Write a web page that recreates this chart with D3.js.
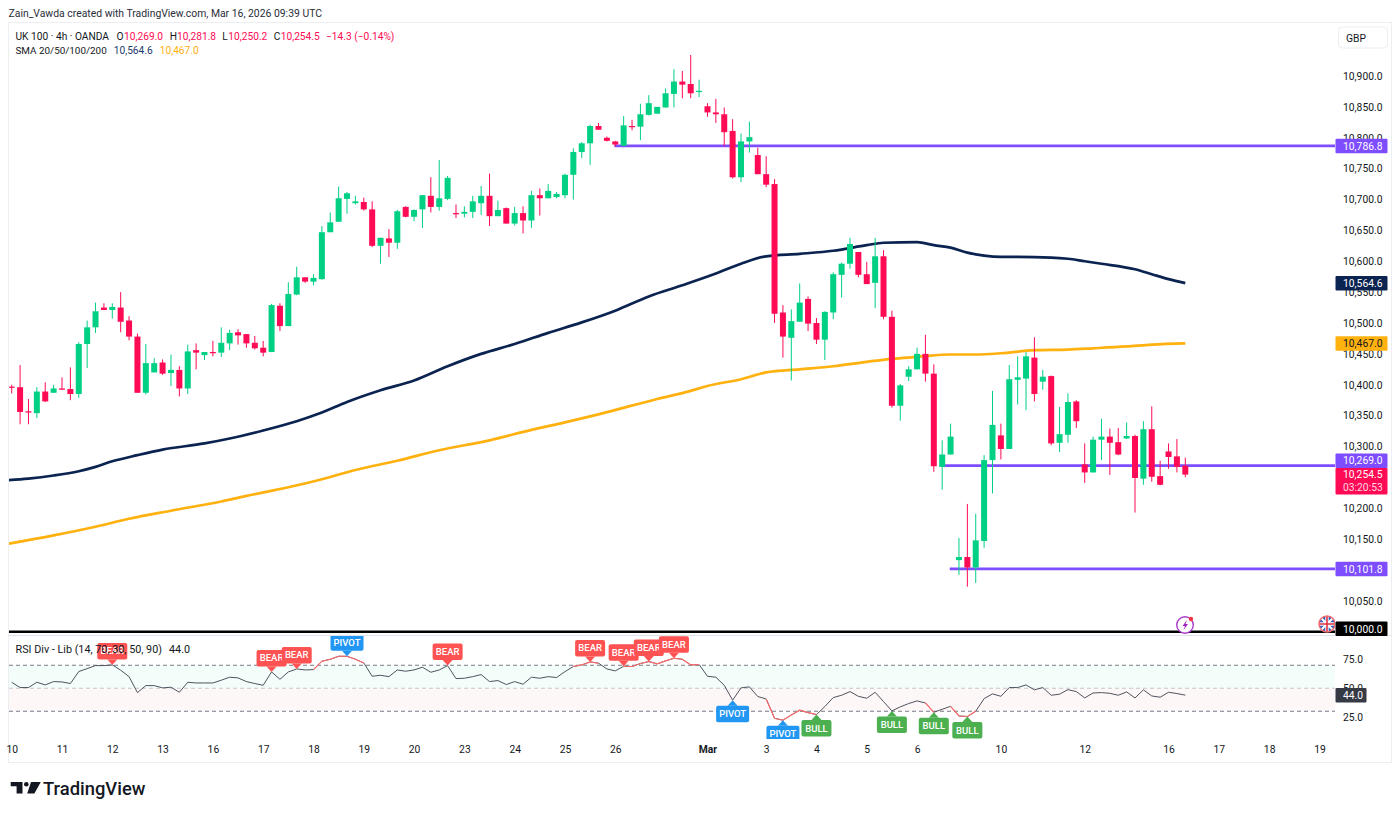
<!DOCTYPE html>
<html>
<head>
<meta charset="utf-8">
<script src="https://cdnjs.cloudflare.com/ajax/libs/d3/7.8.5/d3.min.js"></script>
<style>
    html, body { margin: 0; padding: 0; background: #ffffff; }
    svg { display: block; }
    text { font-family: Roboto, "Liberation Sans", sans-serif; }
</style>
</head>
<body>
<script>
    // candles, one value per 4h bar
    var opens = [
        10397,10396,10357,10354,10389,10387,10394,10393,10385,10466,
        10493,10525,10521,10525,10504,10478,10387,10420,10436,10419,
        10424,10394,10456,10448,10453,10452,10467,10485,10482,10468,
        10460,10453,10528,10495,10546,10574,10567,10571,10647,10664,
        10701,10694,10696,10684,10625,10637,10630,10688,10672,10684,
        10706,10688,10701,10678,10677,10680,10694,10706,10673,10686,
        10661,10678,10666,10707,10702,10704,10707,10740,10777,10791,
        10819,10800,10794,10787,10819,10818,10837,10839,10849,10871,
        10891,10887,10874,10851,10841,10838,10811,10736,10794,10772,
        10741,10725,10517,10476,10502,10539,10500,10473,10517,10578,
        10596,10615,10579,10565,10608,10510,10366,10413,10425,10450,
        10418,10267,10287,10116,10121,10104,10147,10278,10318,10296,
        10408,10410,10444,10405,10414,10306,10319,10373,10271,10258,
        10311,10316,10307,10313,10317,10248,10328,10252,10292,10284,10269
    ];
    var highs = [
        10400,10432,10377,10396,10404,10400,10412,10428,10469,10504,
        10533,10532,10532,10550,10511,10483,10466,10443,10441,10449,
        10430,10465,10467,10453,10471,10493,10489,10490,10482,10479,
        10471,10531,10532,10566,10591,10574,10579,10657,10679,10721,
        10712,10706,10703,10697,10638,10652,10683,10689,10684,10707,
        10736,10764,10738,10692,10689,10706,10722,10742,10698,10687,
        10688,10689,10714,10718,10725,10712,10742,10783,10793,10821,
        10824,10802,10795,10835,10829,10855,10869,10850,10880,10911,
        10908,10934,10894,10856,10863,10849,10830,10807,10826,10784,
        10770,10733,10529,10522,10564,10543,10508,10519,10582,10598,
        10638,10615,10599,10638,10618,10520,10401,10430,10460,10481,
        10433,10310,10337,10152,10207,10191,10286,10390,10337,10432,
        10446,10453,10477,10424,10415,10364,10386,10375,10305,10316,
        10345,10329,10330,10339,10319,10341,10365,10277,10305,10312,10281.8
    ];
    var lows = [
        10386,10336,10336,10346,10372,10387,10392,10375,10379,10427,
        10484,10521,10507,10485,10472,10387,10384,10420,10416,10398,
        10381,10385,10425,10440,10446,10445,10456,10465,10460,10457,
        10446,10453,10487,10495,10545,10565,10561,10570,10647,10664,
        10677,10692,10682,10623,10596,10607,10620,10671,10665,10654,
        10679,10682,10699,10670,10671,10670,10675,10657,10673,10661,
        10658,10645,10654,10674,10702,10702,10702,10700,10767,10756,
        10813,10794,10786,10787,10812,10796,10836,10839,10849,10849,
        10864,10864,10866,10834,10824,10786,10734,10728,10776,10741,
        10720,10500,10444,10407,10502,10487,10466,10440,10506,10541,
        10588,10574,10563,10524,10506,10363,10342,10406,10425,10405,
        10259,10230,10287,10092,10073,10079,10136,10224,10279,10296,
        10368,10359,10373,10392,10302,10291,10306,10330,10241,10258,
        10278,10254,10286,10312,10193,10238,10243,10237,10264,10258,10250.2
    ];
    var closes = [
        10396,10356,10355,10389,10373,10394,10392,10385,10466,10493,
        10519,10521,10526,10502,10478,10387,10435,10435,10418,10424,
        10394,10454,10452,10453,10452,10468,10484,10480,10467,10459,
        10452,10529,10495,10547,10574,10567,10573,10647,10663,10702,
        10710,10697,10684,10625,10638,10630,10681,10672,10683,10707,
        10688,10702,10735,10676,10680,10697,10706,10673,10683,10661,
        10678,10666,10707,10702,10714,10709,10740,10777,10791,10819,
        10813,10795,10789,10820,10818,10838,10856,10850,10872,10891,
        10886,10872,10876,10841,10838,10809,10736,10794,10801,10741,
        10724,10515,10478,10503,10533,10499,10473,10518,10579,10596,
        10628,10578,10563,10608,10510,10366,10399,10425,10450,10418,
        10268,10287,10316,10121,10104,10148,10278,10335,10296,10409,
        10412,10446,10385,10413,10305,10320,10372,10341,10258,10311,
        10316,10306,10287,10317,10249,10328,10251,10238,10283,10267,10254.5
    ];

    // moving averages, sampled at the bars where the curve could be read
    var sma100Bars = [-1,2,5,8,10,12,15,18,23,26,30,34,37,40,44,48,52,56,60,64,68,72,76,80,84,87,90,94,98,102,104,108,110,112,114,116,118,120,124,126,128,130,134,136,138,140];
    var sma100Values = [10245,10248,10253,10260,10267,10276,10286,10295,10305,10313,10326,10341,10355,10372,10391,10407,10430,10450,10466,10484,10501,10520,10543,10561,10580,10596,10608,10612,10617,10626,10630,10631,10626,10622,10614,10609,10607,10607,10606,10604,10600,10596,10587,10579,10571,10564.6];
    var sma200Bars = [-1,5,10,14,19,25,28,33,37,41,46,51,57,62,66,70,77,81,83,87,90,94,98,102,105,108,112,115,118,122,126,129,133,136,140];
    var sma200Values = [10141,10156,10170,10183,10196,10211,10220,10234,10247,10262,10277,10294,10310,10327,10339,10352,10377,10390,10398,10409,10420,10425,10430,10437,10442,10445,10449,10449,10451,10456,10457,10459,10462,10465,10467];

    // RSI, one value per bar
    var rsiValues = [
        55.2,50.6,50.6,55.2,52.9,55.8,55.5,54.1,64.5,67.1,
        69.7,69.7,70.3,65.7,60.1,46.2,52.3,52.3,50.3,50.9,
        46.5,55.2,54.6,54.6,54.6,57.0,59.6,59.0,55.8,54.1,
        52.6,64.2,57.8,64.2,66.8,65.9,66.2,73.5,75.2,77.8,
        77.8,75.2,72.0,60.4,61.3,60.1,65.9,64.8,65.9,68.3,
        63.9,65.9,69.7,58.4,58.7,60.1,61.9,55.8,56.7,53.2,
        55.8,53.5,59.6,58.7,60.1,59.3,64.5,68.9,70.3,72.9,
        71.8,66.8,65.1,69.1,68.9,71.5,73.2,71.2,73.8,76.1,
        75.2,70.3,70.6,60.4,59.6,52.6,39.6,50.3,51.2,42.8,
        40.7,23.9,22.2,26.8,30.9,28.8,27.1,34.1,41.9,43.9,
        47.1,43.0,41.3,46.5,38.4,30.3,33.8,36.7,39.0,37.2,
        29.1,31.7,34.3,25.9,25.4,30.0,41.0,45.1,43.0,50.6,
        50.6,52.9,48.6,50.6,43.9,44.8,48.8,47.1,41.6,45.9,
        46.2,45.6,43.9,46.8,41.6,48.6,43.3,42.2,46.5,45.4,44.0
    ];
    var rsiHotStarts = [36,67,73,90,109,112];
    var rsiHotEnds = [42,70,82,96,110,115];
    var rsiLevels = [70,50,30];
    var rsiTicks = [75,50,25];

    var markerBars = [12,31,34,40,52,69,73,76,79,86,92,96,105,110,114];
    var markerLabels = ['BEAR','BEAR','BEAR','PIVOT','BEAR','BEAR','BEAR','BEAR','BEAR','PIVOT','PIVOT','BULL','BULL','BULL','BULL'];
    var markerSides = ['up','up','up','up','up','up','up','up','up','down','down','down','down','down','down'];

    // 10,250 and 10,100 sit fully behind price badges in the picture
    var priceTicks = [10900,10850,10800,10750,10700,10650,10600,10550,10500,10450,10400,10350,10300,10200,10150,10050];
    var levelValues = [10786.8,10269.0,10101.8];
    var levelStartBars = [71.9,110.8,111.9];

    var badgeValues = [10786.8,10564.6,10467.0,10269.0,10101.8,10000.0];
    var badgeColors = ['#7e4dff','#0b2350','#ffb10f','#7e4dff','#7e4dff','#000000'];
    var badgeTextColors = ['#ffffff','#ffffff','#131722','#ffffff','#ffffff','#ffffff'];
    var badgeShifts = [0,0,0,-5,0,-3];

    var timeBars = [0,6,12,18,24,30,36,42,48,54,60,66,72,83,90,96,102,108,118,128,138,144,150,156];
    var timeLabels = ['10','11','12','13','16','17','18','19','20','23','24','25','26','Mar','3','4','5','6','10','12','16','17','18','19'];

    var green = '#00d084', red = '#ff0a54', purple = '#7e4dff', navy = '#0b2350', amber = '#ffb10f';
    var textColor = '#131722';
    var axisFont = 10.3;
    var bars = d3.range(closes.length);

    var x = d3.scaleLinear().domain([0, 140]).range([11.7, 1185.3]);
    var y = d3.scaleLinear().domain([10900, 10000]).range([76, 631.75]);
    var rsiY = d3.scaleLinear().domain([75, 25]).range([659.5, 717]);

    var svg = d3.select('body').append('svg').attr('width', 1400).attr('height', 814);
    var defs = svg.append('defs');
    defs.append('clipPath').attr('id', 'main-clip').append('rect')
        .attr('x', 9).attr('y', 23).attr('width', 1326).attr('height', 612);
    defs.append('clipPath').attr('id', 'rsi-clip').append('rect')
        .attr('x', 9).attr('y', 636).attr('width', 1326).attr('height', 103);
    defs.append('clipPath').attr('id', 'flag-clip').append('circle')
        .attr('cx', 1327).attr('cy', 624).attr('r', 8);

    svg.append('text').attr('x', 8.5).attr('y', 16.5)
        .attr('font-size', 10.4).attr('fill', '#2a2e39')
        .text('Zain_Vawda created with TradingView.com, Mar 16, 2026 09:39 UTC');

    // chart frame
    svg.append('rect').attr('x', 8.5).attr('y', 22.5).attr('width', 1383).attr('height', 740)
        .attr('fill', 'none').attr('stroke', '#eceef2');
    svg.append('line').attr('x1', 9).attr('x2', 1391).attr('y1', 635.5).attr('y2', 635.5)
        .attr('stroke', '#e0e3eb');

    var main = svg.append('g').attr('clip-path', 'url(#main-clip)');

    // sma lines sit under the candles
    var smaLine = d3.line().curve(d3.curveMonotoneX)
        .x(function (d) { return x(d[0]); })
        .y(function (d) { return y(d[1]); });
    main.append('path').datum(d3.zip(sma200Bars, sma200Values)).attr('d', smaLine)
        .attr('fill', 'none').attr('stroke', amber).attr('stroke-width', 2.7);
    main.append('path').datum(d3.zip(sma100Bars, sma100Values)).attr('d', smaLine)
        .attr('fill', 'none').attr('stroke', navy).attr('stroke-width', 2.7);

    main.selectAll('.level').data(levelValues).enter().append('line')
        .attr('class', 'level')
        .attr('x1', function (d, i) { return x(levelStartBars[i]); })
        .attr('x2', 1335)
        .attr('y1', function (d) { return y(d); })
        .attr('y2', function (d) { return y(d); })
        .attr('stroke', purple).attr('stroke-width', 2.8);
    main.append('line').attr('x1', 9).attr('x2', 1335)
        .attr('y1', y(10000)).attr('y2', y(10000))
        .attr('stroke', '#000000').attr('stroke-width', 2.6);

    function candleColor(i) { return closes[i] >= opens[i] ? green : red; }

    main.selectAll('.wick').data(bars).enter().append('line')
        .attr('class', 'wick')
        .attr('x1', function (i) { return x(i); })
        .attr('x2', function (i) { return x(i); })
        .attr('y1', function (i) { return y(highs[i]); })
        .attr('y2', function (i) { return y(lows[i]); })
        .attr('stroke', candleColor).attr('stroke-width', 1);
    main.selectAll('.body').data(bars).enter().append('rect')
        .attr('class', 'body')
        .attr('x', function (i) { return x(i) - 3; })
        .attr('width', 6)
        .attr('y', function (i) { return y(Math.max(opens[i], closes[i])); })
        .attr('height', function (i) { return Math.max(1.2, Math.abs(y(opens[i]) - y(closes[i]))); })
        .attr('fill', candleColor);

    // event icons at the bottom of the price pane
    main.append('circle').attr('cx', 1185).attr('cy', 625).attr('r', 8.3)
        .attr('fill', '#ffffff').attr('stroke', '#a93bc9').attr('stroke-width', 1.4);
    main.append('path').attr('d', 'M1187 620 L1182.5 626 L1185 626 L1183.5 630 L1188 624 L1185.5 624 Z').attr('fill', '#a020c0');
    main.append('circle').attr('cx', 1191).attr('cy', 619).attr('r', 2.2).attr('fill', '#f23645');
    var flag = main.append('g').attr('clip-path', 'url(#flag-clip)');
    flag.append('rect').attr('x', 1319).attr('y', 616).attr('width', 16).attr('height', 16).attr('fill', '#2b5fb8');
    flag.append('path').attr('d', 'M1319 616 L1335 632 M1335 616 L1319 632').attr('stroke', '#ffffff').attr('stroke-width', 2.2);
    flag.append('path').attr('d', 'M1327 616 V632 M1319 624 H1335').attr('stroke', '#ffffff').attr('stroke-width', 3.4);
    flag.append('path').attr('d', 'M1327 616 V632 M1319 624 H1335').attr('stroke', '#e03040').attr('stroke-width', 1.6);
    main.append('circle').attr('cx', 1327).attr('cy', 624).attr('r', 8)
        .attr('fill', 'none').attr('stroke', '#f06a70').attr('stroke-width', 1.4);

    // legend
    var legend = svg.append('g').attr('font-size', 10.2);
    legend.append('text').attr('x', 15.5).attr('y', 40).attr('font-size', 10.2).attr('fill', textColor).text('UK 100 \u00b7 4h \u00b7 OANDA');
    var legendLetters = ['O','H','L','C'];
    var legendLetterX = [116.5,169.7,222.3,273.7];
    var legendValueX = [124,177,228.3,280.7];
    var legendValues = [opens[140], highs[140], lows[140], closes[140]];
    legendLetters.forEach(function (letter, i) {
        legend.append('text').attr('x', legendLetterX[i]).attr('y', 40).attr('fill', textColor).text(letter);
        legend.append('text').attr('x', legendValueX[i]).attr('y', 40).attr('fill', red).text(d3.format(',.1f')(legendValues[i]));
    });
    legend.append('text').attr('x', 326).attr('y', 40).attr('fill', red).text('\u221214.3 (\u22120.14%)');
    legend.append('text').attr('x', 15.5).attr('y', 54).attr('font-size', 9.9).attr('fill', textColor).text('SMA 20/50/100/200');
    legend.append('text').attr('x', 113.7).attr('y', 54).attr('fill', '#1c3a6e').text('10,564.6');
    legend.append('text').attr('x', 159.7).attr('y', 54).attr('fill', amber).text('10,467.0');

    // rsi pane
    var rsiPane = svg.append('g').attr('clip-path', 'url(#rsi-clip)');
    rsiPane.append('rect').attr('x', 9).attr('width', 1326)
        .attr('y', rsiY(70)).attr('height', rsiY(50) - rsiY(70)).attr('fill', '#f3fdfa');
    rsiPane.append('rect').attr('x', 9).attr('width', 1326)
        .attr('y', rsiY(50)).attr('height', rsiY(30) - rsiY(50)).attr('fill', '#fef7f7');
    rsiPane.selectAll('.rsi-level').data(rsiLevels).enter().append('line')
        .attr('class', 'rsi-level')
        .attr('x1', 9).attr('x2', 1335)
        .attr('y1', function (d) { return rsiY(d); })
        .attr('y2', function (d) { return rsiY(d); })
        .attr('stroke', function (d) { return d === 50 ? '#c4c6cc' : '#787b86'; })
        .attr('stroke-dasharray', '4 3');

    var rsiLine = d3.line()
        .x(function (i) { return x(i); })
        .y(function (i) { return rsiY(rsiValues[i]); });
    rsiPane.append('path').datum(bars).attr('d', rsiLine)
        .attr('fill', 'none').attr('stroke', '#50535e').attr('stroke-width', 1);
    rsiHotStarts.forEach(function (start, k) {
        rsiPane.append('path').datum(d3.range(start, rsiHotEnds[k] + 1)).attr('d', rsiLine)
            .attr('fill', 'none').attr('stroke', '#ff6b6b').attr('stroke-width', 1.1);
    });

    var markerColors = { BEAR: '#ff5252', BULL: '#4caf50', PIVOT: '#2196f3' };
    markerBars.forEach(function (bar, k) {
        var label = markerLabels[k];
        var up = markerSides[k] === 'up';
        var px = x(bar), py = rsiY(rsiValues[bar]);
        var w = label === 'PIVOT' ? 33 : 30, h = 16.5, gap = 5.5;
        var top = up ? py - gap - h : py + gap;
        var m = rsiPane.append('g');
        m.append('rect').attr('x', px - w / 2).attr('y', top).attr('width', w).attr('height', h)
            .attr('rx', 2).attr('fill', markerColors[label]);
        var edge = up ? py - gap : py + gap;
        m.append('path').attr('d', d3.line()([[px - 5, edge], [px + 5, edge], [px, py]]) + 'Z')
            .attr('fill', markerColors[label]);
        m.append('text').attr('x', px).attr('y', top + h / 2 + 3.3).attr('text-anchor', 'middle')
            .attr('font-size', 9.5).attr('font-weight', 500).attr('fill', '#ffffff').text(label);
    });

    svg.append('text').attr('x', 15.5).attr('y', 653).attr('font-size', 10.8).attr('fill', textColor)
        .text('RSI Div - Lib (14, 70, 30, 50, 90)');
    svg.append('text').attr('x', 169).attr('y', 653).attr('font-size', 10.8).attr('fill', textColor).text('44.0');

    // price scale
    var priceAxis = svg.append('g').attr('transform', 'translate(1335,0)')
        .call(d3.axisRight(y).tickValues(priceTicks).tickSize(0).tickPadding(8).tickFormat(d3.format(',.1f')));
    var rsiAxis = svg.append('g').attr('transform', 'translate(1335,0)')
        .call(d3.axisRight(rsiY).tickValues(rsiTicks).tickSize(0).tickPadding(8).tickFormat(d3.format('.1f')));
    var timeAxis = svg.append('g').attr('transform', 'translate(0,746)')
        .call(d3.axisBottom(x).tickValues(timeBars).tickSize(0).tickPadding(0)
            .tickFormat(function (d) { return timeLabels[timeBars.indexOf(d)]; }));
    [priceAxis, rsiAxis, timeAxis].forEach(function (axis) {
        axis.select('.domain').remove();
        axis.attr('font-family', null);
        axis.selectAll('text').attr('font-size', axisFont).attr('fill', textColor);
    });
    timeAxis.selectAll('text').filter(function (d) { return d === 83; }).attr('font-weight', 700);

    function badge(top, height, color, textFill, label) {
        svg.append('rect').attr('x', 1335.5).attr('y', top).attr('width', 52).attr('height', height)
            .attr('rx', 1).attr('fill', color);
        svg.append('text').attr('x', 1343).attr('y', top + 11).attr('font-size', axisFont)
            .attr('fill', textFill).text(label);
    }
    badgeValues.forEach(function (v, i) {
        badge(y(v) + badgeShifts[i] - 7.2, 14.5, badgeColors[i], badgeTextColors[i], d3.format(',.1f')(v));
    });
    // last price badge with the bar countdown under it
    svg.append('rect').attr('x', 1335.5).attr('y', 468).attr('width', 52).attr('height', 26.5).attr('rx', 1).attr('fill', red);
    svg.append('text').attr('x', 1343).attr('y', 478).attr('font-size', axisFont).attr('fill', '#ffffff').text('10,254.5');
    svg.append('text').attr('x', 1343).attr('y', 490.5).attr('font-size', axisFont).attr('fill', '#ffd7e3').text('03:20:53');

    svg.append('rect').attr('x', 1335.5).attr('y', 688).attr('width', 31).attr('height', 14.5).attr('rx', 1).attr('fill', '#363a45');
    svg.append('text').attr('x', 1343).attr('y', 699).attr('font-size', axisFont).attr('fill', '#ffffff').text(rsiValues[140].toFixed(1));

    svg.append('rect').attr('x', 1338.5).attr('y', 27).attr('width', 49).attr('height', 21).attr('rx', 4)
        .attr('fill', '#ffffff').attr('stroke', '#eceef2');
    svg.append('text').attr('x', 1346).attr('y', 42).attr('font-size', axisFont).attr('fill', textColor).text('GBP');

    // logo
    svg.append('path').attr('fill', '#131722')
        .attr('d', 'M10.7 782 H22.5 V793.4 H16.6 V786.2 H10.7 Z M31 782 H40.8 L34.4 793.4 H27.2 Z');
    svg.append('circle').attr('cx', 26.3).attr('cy', 784.2).attr('r', 2.3).attr('fill', '#131722');
    svg.append('text').attr('x', 43).attr('y', 794.5).attr('font-size', 18.4).attr('font-weight', 500)
        .attr('fill', '#131722').text('TradingView');
</script>
</body>
</html>
